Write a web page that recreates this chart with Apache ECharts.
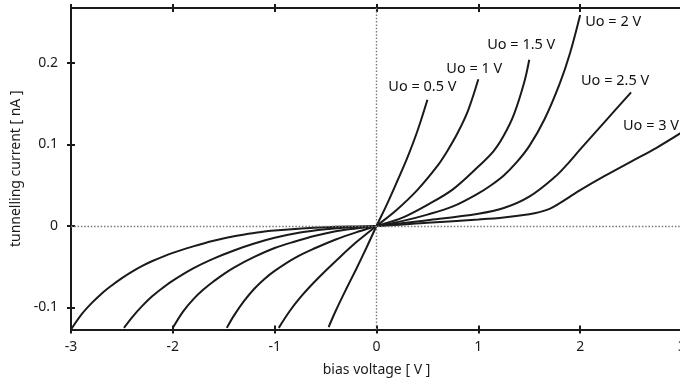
<!DOCTYPE html>
<html><head><meta charset="utf-8">
<script src="https://cdn.jsdelivr.net/npm/echarts@6/dist/echarts.min.js"></script>
<style>html,body{margin:0;padding:0;background:#fff}#c{width:680px;height:383px}</style>
</head><body><div id="c"></div>
<script>
// ---- data ----
const xTicks = [-3, -2, -1, 0, 1, 2, 3];
const yTicks = [-0.1, 0, 0.1, 0.2];
const curveNames = ['Uo = 0.5 V', 'Uo = 1 V', 'Uo = 1.5 V', 'Uo = 2 V', 'Uo = 2.5 V', 'Uo = 3 V'];

const u05X = [-0.47, -0.4, -0.3, -0.2, -0.1, 0, 0.1, 0.2, 0.3, 0.4, 0.5];
const u05Y = [-0.124, -0.104, -0.078, -0.053, -0.027, 0, 0.026, 0.054, 0.083, 0.116, 0.155];

const u10X = [-0.96, -0.85, -0.75, -0.65, -0.5, -0.35, -0.2, -0.1, 0, 0.2, 0.4, 0.6, 0.7, 0.8, 0.9, 1.0];
const u10Y = [-0.125, -0.104, -0.088, -0.074, -0.055, -0.037, -0.020, -0.0098, 0, 0.020, 0.044, 0.074, 0.093, 0.115, 0.142, 0.180];

const u15X = [-1.47, -1.4, -1.3, -1.2, -1.1, -1.0, -0.8, -0.6, -0.4, -0.2, 0, 0.25, 0.5, 0.75, 1.0, 1.15, 1.25, 1.35, 1.45, 1.5];
const u15Y = [-0.125, -0.110, -0.092, -0.077, -0.065, -0.055, -0.039, -0.027, -0.0165, -0.0078, 0, 0.010, 0.026, 0.045, 0.073, 0.092, 0.111, 0.137, 0.176, 0.204];

const u20X = [-2.0, -1.9, -1.8, -1.7, -1.6, -1.5, -1.4, -1.2, -1.0, -0.8, -0.6, -0.4, -0.2, 0, 0.25, 0.5, 0.75, 1.0, 1.125, 1.25, 1.375, 1.5, 1.65, 1.8, 1.9, 2.0];
const u20Y = [-0.125, -0.105, -0.090, -0.078, -0.068, -0.059, -0.051, -0.038, -0.027, -0.019, -0.012, -0.0065, -0.003, 0, 0.006, 0.014, 0.024, 0.040, 0.050, 0.062, 0.078, 0.098, 0.131, 0.175, 0.212, 0.259];

const u25X = [-2.48, -2.4, -2.3, -2.2, -2.1, -2.0, -1.8, -1.6, -1.4, -1.2, -1.0, -0.75, -0.5, -0.25, 0, 0.5, 1.0, 1.25, 1.5, 1.75, 1.875, 2.0, 2.25, 2.5];
const u25Y = [-0.125, -0.112, -0.098, -0.086, -0.076, -0.067, -0.052, -0.040, -0.030, -0.0215, -0.0145, -0.008, -0.004, -0.0015, 0, 0.007, 0.015, 0.022, 0.036, 0.060, 0.076, 0.094, 0.129, 0.164];

const u30X = [-3.0, -2.9, -2.8, -2.7, -2.6, -2.5, -2.4, -2.3, -2.2, -2.0, -1.8, -1.6, -1.4, -1.2, -1.0, -0.5, 0, 0.5, 1.0, 1.25, 1.5, 1.6, 1.7, 1.8, 1.9, 2.0, 2.25, 2.5, 2.75, 3.0];
const u30Y = [-0.127, -0.109, -0.095, -0.083, -0.073, -0.064, -0.056, -0.049, -0.043, -0.033, -0.025, -0.018, -0.0125, -0.0085, -0.0055, -0.0015, 0, 0.004, 0.008, 0.0105, 0.0145, 0.017, 0.021, 0.028, 0.036, 0.044, 0.062, 0.079, 0.096, 0.115];

// ---- chart ----
const FONT = 'Noto Sans';
const INK = '#1a1a1a';
const curves = [[u05X, u05Y], [u10X, u10Y], [u15X, u15Y], [u20X, u20Y], [u25X, u25Y], [u30X, u30Y]];
const labelLayout = [
  { position: 'top', offset: [-5, 0] },
  { position: 'top', offset: [-4, 2] },
  { position: 'top', offset: [-8, -2] },
  { position: 'right', offset: [0, 7] },
  { position: 'top', offset: [-16, 1] },
  { position: 'top', offset: [-31, 6] }
];

const chart = echarts.init(document.getElementById('c'), null, { renderer: 'canvas' });

const lineSeries = curves.map((c, k) => ({
  type: 'line',
  name: curveNames[k],
  xAxisIndex: 0, yAxisIndex: 0,
  data: c[0].map((x, i) => [x, c[1][i]]),
  showSymbol: false, symbol: 'none',
  smooth: 0.35,
  lineStyle: { color: INK, width: 2 },
  z: 3,
  animation: false
}));

const labelSeries = {
  type: 'scatter',
  xAxisIndex: 0, yAxisIndex: 0,
  symbol: 'circle',
  symbolSize: 0.1,
  itemStyle: { color: INK, opacity: 1 },
  silent: true,
  z: 4,
  animation: false,
  data: curves.map((c, k) => ({
    value: [c[0][c[0].length - 1], c[1][c[1].length - 1]],
    label: {
      show: true,
      formatter: curveNames[k],
      position: labelLayout[k].position,
      offset: labelLayout[k].offset,
      distance: 5,
      opacity: 1,
      color: '#111', fontSize: 14.5, fontFamily: FONT
    }
  }))
};

const refSeries = {
  type: 'line', xAxisIndex: 0, yAxisIndex: 0, data: [], z: 1,
  markLine: {
    silent: true, symbol: 'none', animation: false,
    label: { show: false },
    lineStyle: { type: [1.5, 1.8], color: '#7a7a7a', width: 1.4 },
    data: [{ xAxis: 0 }, { yAxis: 0 }]
  }
};

const axisLineStyle = { color: INK, width: 2 };
const tickStyle = { color: INK, width: 2 };

chart.setOption({
  animation: false,
  backgroundColor: '#fff',
  grid: { left: 71, right: -2, top: 8, bottom: 53.5, outerBoundsMode: 'none', containLabel: false },
  xAxis: [
    {
      type: 'value', position: 'bottom', min: xTicks[0], max: xTicks[xTicks.length - 1], interval: 1,
      axisLine: { show: true, onZero: false, lineStyle: axisLineStyle },
      axisTick: { show: true, length: 4, lineStyle: tickStyle },
      axisLabel: { color: INK, fontSize: 14, fontFamily: FONT, margin: 11 },
      splitLine: { show: false },
      name: 'bias voltage [ V ]', nameLocation: 'middle', nameGap: 34,
      nameTextStyle: { color: INK, fontSize: 14, fontFamily: FONT }
    },
    {
      type: 'value', position: 'bottom', min: xTicks[0], max: xTicks[xTicks.length - 1], interval: 1,
      axisLine: { show: false, onZero: false },
      axisTick: { show: true, inside: true, length: 4, lineStyle: tickStyle },
      axisLabel: { show: false }, splitLine: { show: false }
    },
    {
      type: 'value', position: 'top', min: xTicks[0], max: xTicks[xTicks.length - 1], interval: 1,
      axisLine: { show: true, onZero: false, lineStyle: axisLineStyle },
      axisTick: { show: true, length: 4, lineStyle: tickStyle },
      axisLabel: { show: false }, splitLine: { show: false }
    },
    {
      type: 'value', position: 'top', min: xTicks[0], max: xTicks[xTicks.length - 1], interval: 1,
      axisLine: { show: false, onZero: false },
      axisTick: { show: true, inside: true, length: 4, lineStyle: tickStyle },
      axisLabel: { show: false }, splitLine: { show: false }
    }
  ],
  yAxis: [
    {
      type: 'value', position: 'left', min: -0.127, max: 0.2675,
      axisLine: { show: true, onZero: false, lineStyle: axisLineStyle },
      axisTick: { show: true, length: 4, lineStyle: tickStyle, customValues: yTicks },
      axisLabel: { color: INK, fontSize: 14, fontFamily: FONT, margin: 13, customValues: yTicks,
        formatter: v => String(Math.round(v * 10) / 10) },
      splitLine: { show: false },
      name: 'tunnelling current [ nA ]', nameLocation: 'middle', nameGap: 42,
      nameTextStyle: { color: INK, fontSize: 14, fontFamily: FONT }
    },
    {
      type: 'value', position: 'left', min: -0.127, max: 0.2675,
      axisLine: { show: false, onZero: false },
      axisTick: { show: true, inside: true, length: 4, lineStyle: tickStyle, customValues: yTicks },
      axisLabel: { show: false }, splitLine: { show: false }
    }
  ],
  series: [refSeries].concat(lineSeries, [labelSeries])
});
</script>
</body></html>
